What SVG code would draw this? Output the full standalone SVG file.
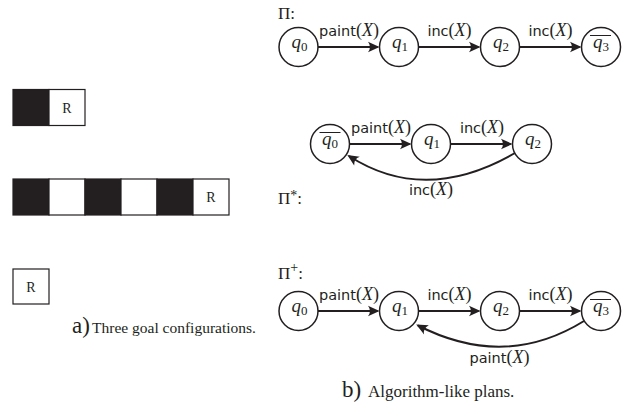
<svg xmlns="http://www.w3.org/2000/svg" width="626" height="406" viewBox="0 0 626 406">
<defs>
<style>
.st{fill:#fff;stroke:#231f20;stroke-width:1.5}
.cell{stroke:#231f20;stroke-width:1.2}
.blk{fill:#231f20}
.wht{fill:#fff}
.edge{fill:none;stroke:#231f20;stroke-width:2}
.ov{stroke:#231f20;stroke-width:1}
.lbl{fill:#231f20}
.sf{font-family:"DejaVu Sans",sans-serif;font-size:14.5px}
.rm{font-family:"Liberation Serif",serif;font-size:18px}
.it{font-style:italic}
.q{font-family:"Liberation Serif",serif;font-size:19px;font-style:italic;fill:#231f20}
.sub{font-style:normal;font-size:13px}
.tm{font-family:"Liberation Serif",serif;fill:#231f20}
</style>
<marker id="arr" viewBox="-13 -7 15 14" refX="-2" refY="0" markerWidth="15" markerHeight="14" markerUnits="userSpaceOnUse" orient="auto">
<path d="M0,0 L-11.5,-5.2 Q-7.5,0 -11.5,5.2 Z" fill="#231f20"/>
</marker>
</defs>
<rect width="626" height="406" fill="#fff"/>

<!-- a) goal configurations -->
<g id="config1">
<rect x="13" y="89.5" width="36" height="36" class="cell blk"/>
<rect x="49" y="89.5" width="36" height="36" class="cell wht"/>
<text x="67" y="112.5" class="tm" font-size="14" text-anchor="middle">R</text>
</g>
<g id="config2">
<rect x="13" y="179" width="36" height="36" class="cell blk"/>
<rect x="49" y="179" width="36" height="36" class="cell wht"/>
<rect x="85" y="179" width="36" height="36" class="cell blk"/>
<rect x="121" y="179" width="36" height="36" class="cell wht"/>
<rect x="157" y="179" width="36" height="36" class="cell blk"/>
<rect x="193" y="179" width="36" height="36" class="cell wht"/>
<text x="211" y="202" class="tm" font-size="14" text-anchor="middle">R</text>
</g>
<g id="config3">
<rect x="13" y="269" width="36" height="35" class="cell wht"/>
<text x="31" y="291.5" class="tm" font-size="14" text-anchor="middle">R</text>
</g>
<text x="72" y="333" class="tm"><tspan font-size="23">a)</tspan><tspan x="92" font-size="15.5">Three goal configurations.</tspan></text>

<!-- b) plans -->
<text x="278" y="19" class="tm" font-size="17">Π:</text>
<text x="278" y="204" class="tm" font-size="17">Π<tspan font-size="14" dy="-4">*</tspan><tspan dy="4">:</tspan></text>
<text x="278" y="279" class="tm" font-size="17">Π<tspan font-size="14" dy="-7">+</tspan><tspan dy="7">:</tspan></text>

<g id="connectors">
<path class="edge" d="M318 47 H377.5" marker-end="url(#arr)"/>
<path class="edge" d="M418.5 47 H478.5" marker-end="url(#arr)"/>
<path class="edge" d="M519.5 47 H579.5" marker-end="url(#arr)"/>

<path class="edge" d="M349.5 144 H409.5" marker-end="url(#arr)"/>
<path class="edge" d="M450.5 144 H510.5" marker-end="url(#arr)"/>
<path class="edge" d="M515 153 Q425 205 349 156" marker-end="url(#arr)"/>

<path class="edge" d="M318 311 H377.5" marker-end="url(#arr)"/>
<path class="edge" d="M418.5 311 H478.5" marker-end="url(#arr)"/>
<path class="edge" d="M519.5 311 H579.5" marker-end="url(#arr)"/>
<path class="edge" d="M584 321 Q505 370 418 325.5" marker-end="url(#arr)"/>

<g class="lbl">
<text x="349" y="36" text-anchor="middle"><tspan class="sf">paint</tspan><tspan class="rm">(</tspan><tspan class="rm it">X</tspan><tspan class="rm">)</tspan></text>
<text x="449.5" y="36" text-anchor="middle"><tspan class="sf">inc</tspan><tspan class="rm">(</tspan><tspan class="rm it">X</tspan><tspan class="rm">)</tspan></text>
<text x="550.5" y="36" text-anchor="middle"><tspan class="sf">inc</tspan><tspan class="rm">(</tspan><tspan class="rm it">X</tspan><tspan class="rm">)</tspan></text>

<text x="381" y="133" text-anchor="middle"><tspan class="sf">paint</tspan><tspan class="rm">(</tspan><tspan class="rm it">X</tspan><tspan class="rm">)</tspan></text>
<text x="482" y="133" text-anchor="middle"><tspan class="sf">inc</tspan><tspan class="rm">(</tspan><tspan class="rm it">X</tspan><tspan class="rm">)</tspan></text>
<text x="431" y="195" text-anchor="middle"><tspan class="sf">inc</tspan><tspan class="rm">(</tspan><tspan class="rm it">X</tspan><tspan class="rm">)</tspan></text>

<text x="349" y="300" text-anchor="middle"><tspan class="sf">paint</tspan><tspan class="rm">(</tspan><tspan class="rm it">X</tspan><tspan class="rm">)</tspan></text>
<text x="449.5" y="300" text-anchor="middle"><tspan class="sf">inc</tspan><tspan class="rm">(</tspan><tspan class="rm it">X</tspan><tspan class="rm">)</tspan></text>
<text x="550.5" y="300" text-anchor="middle"><tspan class="sf">inc</tspan><tspan class="rm">(</tspan><tspan class="rm it">X</tspan><tspan class="rm">)</tspan></text>
<text x="499.5" y="363" text-anchor="middle"><tspan class="sf">paint</tspan><tspan class="rm">(</tspan><tspan class="rm it">X</tspan><tspan class="rm">)</tspan></text>
</g>
</g>

<!-- Pi -->
<g id="pi-q0"><circle cx="298.5" cy="47" r="19.5" class="st"/><text x="299.5" y="47.5" class="q" text-anchor="middle">q<tspan class="sub" dy="3">0</tspan></text></g>
<g id="pi-q1"><circle cx="399" cy="47" r="19.5" class="st"/><text x="400" y="47.5" class="q" text-anchor="middle">q<tspan class="sub" dy="3">1</tspan></text></g>
<g id="pi-q2"><circle cx="500" cy="47" r="19.5" class="st"/><text x="501" y="47.5" class="q" text-anchor="middle">q<tspan class="sub" dy="3">2</tspan></text></g>
<g id="pi-q3"><circle cx="601" cy="47" r="19.5" class="st"/><text x="601" y="47.5" class="q" text-anchor="middle">q<tspan class="sub" dy="3">3</tspan></text><line x1="590" y1="35.5" x2="611" y2="35.5" class="ov"/></g>

<!-- Pi* -->
<g id="pistar-q0"><circle cx="330" cy="144" r="19.5" class="st"/><text x="330" y="144.5" class="q" text-anchor="middle">q<tspan class="sub" dy="3">0</tspan></text><line x1="319.5" y1="132.5" x2="340.5" y2="132.5" class="ov"/></g>
<g id="pistar-q1"><circle cx="431" cy="144" r="19.5" class="st"/><text x="432" y="144.5" class="q" text-anchor="middle">q<tspan class="sub" dy="3">1</tspan></text></g>
<g id="pistar-q2"><circle cx="532" cy="144" r="19.5" class="st"/><text x="533" y="144.5" class="q" text-anchor="middle">q<tspan class="sub" dy="3">2</tspan></text></g>

<!-- Pi+ -->
<g id="piplus-q0"><circle cx="298.5" cy="311" r="19.5" class="st"/><text x="299.5" y="311.5" class="q" text-anchor="middle">q<tspan class="sub" dy="3">0</tspan></text></g>
<g id="piplus-q1"><circle cx="399" cy="311" r="19.5" class="st"/><text x="400" y="311.5" class="q" text-anchor="middle">q<tspan class="sub" dy="3">1</tspan></text></g>
<g id="piplus-q2"><circle cx="500" cy="311" r="19.5" class="st"/><text x="501" y="311.5" class="q" text-anchor="middle">q<tspan class="sub" dy="3">2</tspan></text></g>
<g id="piplus-q3"><circle cx="601" cy="311" r="19.5" class="st"/><text x="601" y="311.5" class="q" text-anchor="middle">q<tspan class="sub" dy="3">3</tspan></text><line x1="590" y1="299.5" x2="611" y2="299.5" class="ov"/></g>

<text x="342" y="397" class="tm"><tspan font-size="23">b)</tspan><tspan x="368" font-size="17">Algorithm-like plans.</tspan></text>
</svg>
